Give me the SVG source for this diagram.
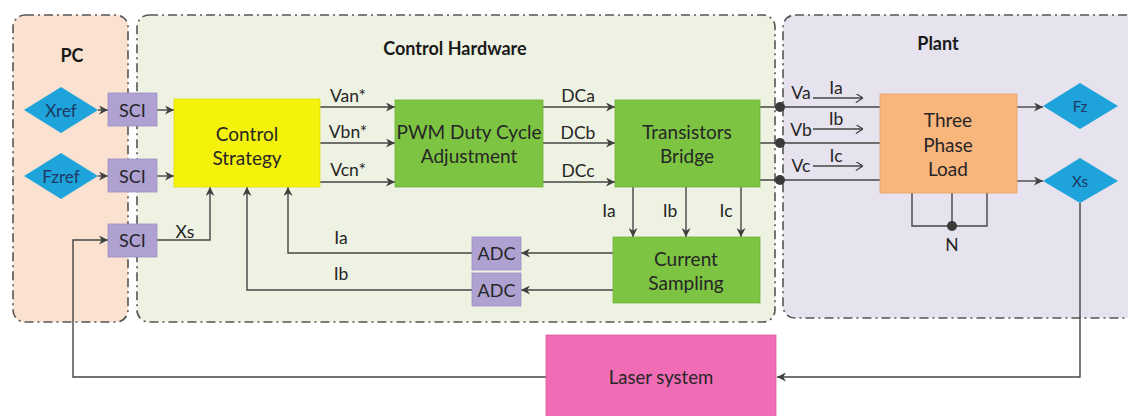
<svg xmlns="http://www.w3.org/2000/svg" width="1128" height="416" viewBox="0 0 1128 416">
<defs>
<marker id="ah" viewBox="0 0 10 10" refX="10" refY="5" markerWidth="9" markerHeight="9" markerUnits="userSpaceOnUse" orient="auto">
<path d="M0,0 L10,5 L0,10 L3,5 Z" fill="#404040"/>
</marker>
<marker id="oa" viewBox="0 0 10 10" refX="10" refY="5" markerWidth="9" markerHeight="9" markerUnits="userSpaceOnUse" orient="auto">
<path d="M2,0 L10,5 L2,10" fill="none" stroke="#404040" stroke-width="1.3"/>
</marker>
</defs>
<style>
text{font-family:Lato,"Liberation Sans",sans-serif;fill:#262626;text-anchor:middle;dominant-baseline:central}
.t{font-size:19px}
.l{font-size:17.5px}
.s{font-size:18px}
.h{font-size:18px;font-weight:bold;fill:#1a1a1a}
.d{font-size:17px;fill:#1F3864}
.c{fill:none;stroke:#454545;stroke-width:1.4}
.a{marker-end:url(#ah)}
.grp{stroke:#555;stroke-width:1.6;stroke-dasharray:9 4 2 4}
.sci{fill:#AFA2D3;stroke:#9C8FC4;stroke-width:0.8}
.g{fill:#7DC443;stroke:#6FB23A;stroke-width:0.8}
.dia{fill:#1EA3DA}
.dot{fill:#3a3a3a}
</style>
<rect width="1128" height="416" fill="#fff"/>
<g id="group-pc">
<rect class="grp" x="13" y="15" width="115" height="307" rx="12" fill="#FBE1D0"/>
<text class="h" x="72" y="55">PC</text>
</g>
<g id="group-control-hardware">
<rect class="grp" x="137" y="15" width="638" height="307" rx="12" fill="#EEF2E3"/>
<text class="h" x="455" y="48">Control Hardware</text>
</g>
<g id="group-plant">
<rect class="grp" x="783" y="15" width="360" height="303" rx="12" fill="#E6E2EE"/>
<text class="h" x="938" y="43">Plant</text>
</g>
<g id="connectors">
<line class="c a" x1="98" y1="110" x2="108" y2="110"/>
<line class="c a" x1="98" y1="176" x2="108" y2="176"/>
<line class="c a" x1="157" y1="110" x2="174" y2="110"/>
<line class="c a" x1="157" y1="176" x2="174" y2="176"/>
<polyline class="c a" points="157,240 210,240 210,187"/>
<line class="c a" x1="320" y1="107" x2="395" y2="107"/>
<line class="c a" x1="320" y1="143" x2="395" y2="143"/>
<line class="c a" x1="320" y1="182" x2="395" y2="182"/>
<line class="c a" x1="543" y1="107" x2="615" y2="107"/>
<line class="c a" x1="543" y1="143" x2="615" y2="143"/>
<line class="c a" x1="543" y1="182" x2="615" y2="182"/>
<line class="c a" x1="633" y1="187" x2="633" y2="237"/>
<line class="c a" x1="686" y1="187" x2="686" y2="237"/>
<line class="c a" x1="741" y1="187" x2="741" y2="237"/>
<line class="c a" x1="613" y1="253" x2="521" y2="253"/>
<line class="c a" x1="613" y1="290" x2="521" y2="290"/>
<polyline class="c a" points="472,253 288,253 288,187"/>
<polyline class="c a" points="472,290 247,290 247,187"/>
<line class="c" x1="760" y1="107" x2="880" y2="107"/>
<line class="c" x1="760" y1="143" x2="880" y2="143"/>
<line class="c" x1="760" y1="180" x2="880" y2="180"/>
<circle class="dot" cx="780" cy="107" r="5"/>
<circle class="dot" cx="780" cy="143" r="5"/>
<circle class="dot" cx="780" cy="180" r="5"/>
<line class="c" x1="813" y1="98" x2="863" y2="98" marker-end="url(#oa)"/>
<line class="c" x1="813" y1="129" x2="863" y2="129" marker-end="url(#oa)"/>
<line class="c" x1="813" y1="166" x2="863" y2="166" marker-end="url(#oa)"/>
<line class="c a" x1="1017" y1="107" x2="1043" y2="107"/>
<line class="c a" x1="1017" y1="181" x2="1043" y2="181"/>
<polyline class="c" points="912,193 912,226 987,226 987,193"/>
<line class="c" x1="952" y1="193" x2="952" y2="226"/>
<circle class="dot" cx="952" cy="226" r="5"/>
<polyline class="c a" points="1080,203 1080,377 777,377"/>
<polyline class="c a" points="546,377 73,377 73,240 108,240"/>
<text class="l" x="348" y="95">Van*</text>
<text class="l" x="348" y="131">Vbn*</text>
<text class="l" x="348" y="169">Vcn*</text>
<text class="l" x="578" y="95">DCa</text>
<text class="l" x="578" y="132">DCb</text>
<text class="l" x="578" y="170">DCc</text>
<text class="l" x="609" y="210">Ia</text>
<text class="l" x="670" y="210">Ib</text>
<text class="l" x="726" y="210">Ic</text>
<text class="l" x="341" y="237">Ia</text>
<text class="l" x="341" y="273">Ib</text>
<text class="l" x="185" y="231">Xs</text>
<text class="l" x="801" y="92">Va</text>
<text class="l" x="801" y="129">Vb</text>
<text class="l" x="801" y="165">Vc</text>
<text class="l" x="836" y="87">Ia</text>
<text class="l" x="836" y="118">Ib</text>
<text class="l" x="836" y="155">Ic</text>
<text class="l" x="952" y="244">N</text>
</g>
<g id="node-xref"><polygon class="dia" points="24,110 61,87 98,110 61,133"/><text class="d" x="61" y="110">Xref</text></g>
<g id="node-fzref"><polygon class="dia" points="24,176 61,153 98,176 61,199"/><text class="d" x="61" y="176">Fzref</text></g>
<g id="node-sci1"><rect class="sci" x="108" y="93" width="49" height="33"/><text class="s" x="132.5" y="110">SCI</text></g>
<g id="node-sci2"><rect class="sci" x="108" y="159" width="49" height="33"/><text class="s" x="132.5" y="176">SCI</text></g>
<g id="node-sci3"><rect class="sci" x="108" y="224" width="49" height="33"/><text class="s" x="132.5" y="240">SCI</text></g>
<g id="node-control-strategy"><rect x="174" y="99" width="146" height="88" fill="#F4F20A" stroke="#E2DF00" stroke-width="0.8"/><text class="t" x="247" y="133">Control</text><text class="t" x="247" y="157">Strategy</text></g>
<g id="node-pwm"><rect class="g" x="395" y="100" width="148" height="87"/><text class="t" x="469" y="131">PWM Duty Cycle</text><text class="t" x="469" y="155">Adjustment</text></g>
<g id="node-bridge"><rect class="g" x="615" y="100" width="145" height="87"/><text class="t" x="687" y="131">Transistors</text><text class="t" x="687" y="155">Bridge</text></g>
<g id="node-current-sampling"><rect class="g" x="613" y="237" width="147" height="66"/><text class="t" x="686" y="258">Current</text><text class="t" x="686" y="282">Sampling</text></g>
<g id="node-adc1"><rect class="sci" x="472" y="237" width="49" height="33"/><text class="s" x="496.5" y="253">ADC</text></g>
<g id="node-adc2"><rect class="sci" x="472" y="273" width="49" height="33"/><text class="s" x="496.5" y="290">ADC</text></g>
<g id="node-load"><rect x="880" y="94" width="137" height="99" fill="#F8B57C" stroke="#E8A468" stroke-width="0.8"/><text class="t" x="948" y="119">Three</text><text class="t" x="948" y="144">Phase</text><text class="t" x="948" y="168">Load</text></g>
<g id="node-fz"><polygon class="dia" points="1043,106 1080,83 1118,106 1080,129"/><text class="d" x="1080" y="106" style="font-size:15px">Fz</text></g>
<g id="node-xs"><polygon class="dia" points="1043,181 1080,158 1118,181 1080,203"/><text class="d" x="1080" y="181" style="font-size:15px">Xs</text></g>
<g id="node-laser"><rect x="546" y="335" width="230" height="90" fill="#F06CB4" stroke="#DD5BA1" stroke-width="0.8"/><text class="t" x="661" y="377" style="font-size:18.5px">Laser system</text></g>
</svg>
